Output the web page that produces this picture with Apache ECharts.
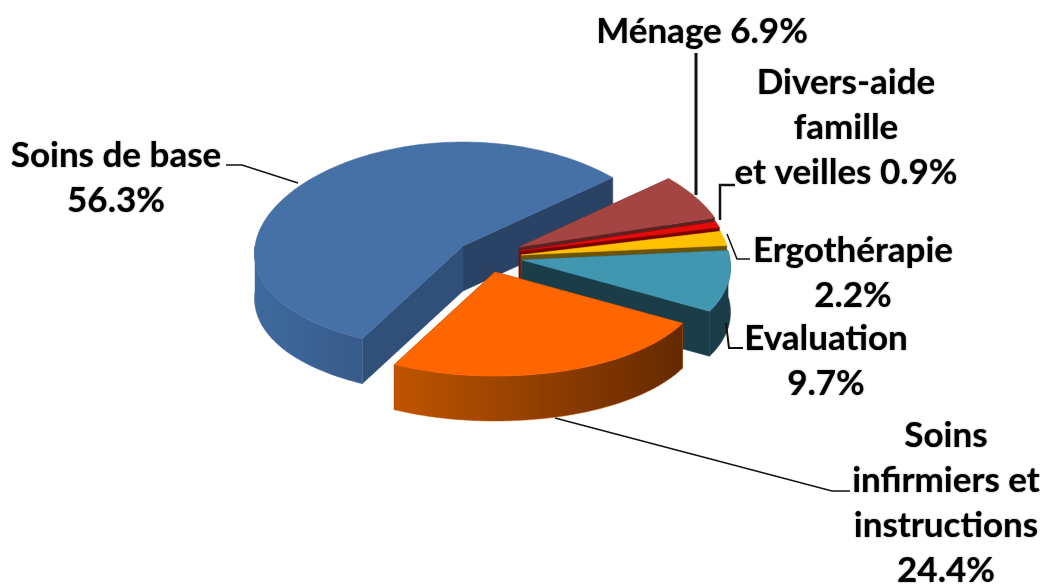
<!DOCTYPE html>
<html>
<head>
<meta charset="utf-8">
<title>Répartition des prestations</title>
<script src="https://cdn.jsdelivr.net/npm/echarts@6/dist/echarts.min.js"></script>
<style>
  html, body { margin: 0; padding: 0; background: #fff; }
  #chart { width: 1045px; height: 585px; }
</style>
</head>
<body>
<div id="chart"></div>
<script>
// clockwise from the front cut of the big slice
const categories = ['Soins de base', 'Ménage', 'Divers-aide\nfamille\net veilles', 'Ergothérapie', 'Evaluation', 'Soins\ninfirmiers et\ninstructions'];
const values = [56.3, 6.9, 0.9, 2.2, 9.7, 24.4];
const labelSeparators = ['\n', ' ', ' ', '\n', '\n', '\n'];

// looks of the slices, same order as categories
const topColors = ['#4571a6', '#a54543', '#e60b0b', '#ffc000', '#4197b0', '#ff6600'];
const startWall = ['#30507a', '#5a2321', '#7a0000', '#6e5300', '#1b3d4a', '#6b2c00'];
const endWall = ['#2a4263', '#5a2321', '#7a0000', '#6e5300', '#1b3d4a', '#6b2c00'];
const outerWall = [
  ['#3f6a9e', '#375b8a'],
  ['#5a2321', '#5a2321'],
  ['#7a0000', '#7a0000'],
  ['#6e5300', '#6e5300'],
  ['#1b3d4a', '#1b3d4a'],
  ['#bf5400', '#642900']
];
const apex = [[463, 246], [519, 247], [520, 251], [521, 255], [522, 260], [495, 272]];

const radiusX = 208;
const radiusY = 104;
const depth = 45;
const perspective = 0.07;
const firstAngle = 117;

const labelPos = [[116, 178], [702, 32], [846, 128], [853, 273], [826, 361], [946, 503]];
const leaders = [
  [[226, 165], [242, 165], [298, 183]],
  [[696, 53], [696, 195]],
  [[735, 185], [720, 185], [720, 220]],
  [[750, 259], [737, 259], [727, 234]],
  [[743, 348], [729, 348], [726, 323]],
  [[850, 491], [832, 491], [555, 418]]
];
const leaderWidth = [1.5, 3, 2.5, 1.5, 2, 1.5];

const total = values.reduce((a, b) => a + b, 0);

const myChart = echarts.init(document.getElementById('chart'));

function arcPoint(i, deg, dy) {
  const t = deg * Math.PI / 180;
  const w = 1 - perspective * Math.sin(t);
  return [apex[i][0] + radiusX * Math.cos(t) / w, apex[i][1] + radiusY * Math.sin(t) + dy];
}

function arcPoints(i, from, to, dy) {
  const pts = [];
  for (let a = from; a < to; a += 1.5) pts.push(arcPoint(i, a, dy));
  pts.push(arcPoint(i, to, dy));
  return pts;
}

function poly(points, fill) {
  return {
    type: 'polygon',
    shape: { points: points },
    style: { fill: fill, stroke: fill.colorStops ? fill.colorStops[0].color : fill, lineWidth: 0.5 }
  };
}

function renderItem(params, api) {
  const i = params.dataIndex;
  let from = firstAngle;
  for (let k = 0; k < i; k++) from += values[k] / total * 360;
  const to = from + api.value(0) / total * 360;
  const a = apex[i];
  const children = [];

  // cut faces
  const p0 = arcPoint(i, from, 0);
  const p1 = arcPoint(i, to, 0);
  children.push(poly([a, p1, [p1[0], p1[1] + depth], [a[0], a[1] + depth]], endWall[i]));
  children.push(poly([a, p0, [p0[0], p0[1] + depth], [a[0], a[1] + depth]], startWall[i]));

  // outer rim, only the part that looks at us (a bit past 0 because of the perspective)
  const rims = [];
  if (from < 180) rims.push([from, Math.min(to, 180)]);
  if (to > 355) rims.push([Math.max(from, 355), Math.min(to, 540)]);
  rims.forEach(r => {
    const top = arcPoints(i, r[0], r[1], 0);
    const bottom = arcPoints(i, r[0], r[1], depth).reverse();
    children.push(poly(top.concat(bottom), {
      type: 'linear', x: 0, y: 0, x2: 1, y2: 0,
      colorStops: [{ offset: 0, color: outerWall[i][0] }, { offset: 1, color: outerWall[i][1] }]
    }));
  });

  // top face
  children.push(poly([a].concat(arcPoints(i, from, to, 0)), topColors[i]));

  // leader and label
  children.push({
    type: 'polyline',
    z2: 50,
    shape: { points: leaders[i] },
    style: { fill: 'none', stroke: '#111', lineWidth: leaderWidth[i] }
  });
  children.push({
    type: 'text',
    z2: 60,
    style: {
      text: categories[i] + labelSeparators[i] + api.value(0).toFixed(1) + '%',
      x: labelPos[i][0],
      y: labelPos[i][1],
      align: 'center',
      verticalAlign: 'middle',
      fontFamily: 'Lato',
      fontWeight: 'bold',
      fontSize: 35,
      lineHeight: 45,
      fill: '#000',
      textShadowColor: 'rgba(0,0,0,0.6)',
      textShadowBlur: 1.5
    }
  });

  return { type: 'group', children: children };
}

const option = {
  animation: false,
  series: [{
    type: 'custom',
    coordinateSystem: 'none',
    silent: true,
    renderItem: renderItem,
    data: values.map(v => [v])
  }]
};

myChart.setOption(option);
</script>
</body>
</html>
